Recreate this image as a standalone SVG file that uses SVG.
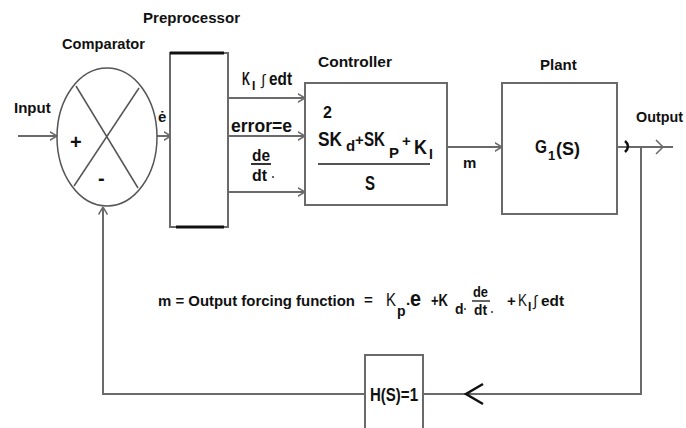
<svg xmlns="http://www.w3.org/2000/svg" width="686" height="428" viewBox="0 0 686 428">
<style>
.ln{stroke:#6a6a6a;stroke-width:2;fill:none}
.bx{stroke:#6a6a6a;stroke-width:2;fill:#fff}
.t{font-family:"Liberation Sans",Arial,sans-serif;font-weight:bold;fill:#111}
.n{font-family:"Liberation Sans",Arial,sans-serif;font-weight:normal;fill:#111}
.blk{stroke:#111;stroke-width:2.5;fill:none}
</style>
<defs>
<marker id="ah" viewBox="0 0 8 10" refX="7.5" refY="5" markerWidth="8" markerHeight="10" markerUnits="userSpaceOnUse" orient="auto">
<path d="M0,0.5 L7.5,5 L0,9.5" fill="none" stroke="#6a6a6a" stroke-width="1.5"/>
</marker>
</defs>
<rect width="686" height="428" fill="#fff"/>

<g id="connectors">
<line class="ln" x1="18" y1="136" x2="57" y2="136" marker-end="url(#ah)"/>
<line class="ln" x1="157" y1="136" x2="171" y2="136" marker-end="url(#ah)"/>
<line class="ln" x1="228" y1="98" x2="305" y2="98" marker-end="url(#ah)"/>
<line class="ln" x1="228" y1="136" x2="305" y2="136" marker-end="url(#ah)"/>
<line class="ln" x1="228" y1="192" x2="305" y2="192" marker-end="url(#ah)"/>
<line class="ln" x1="447" y1="147" x2="502" y2="147" marker-end="url(#ah)"/>
<line class="ln" x1="617" y1="147" x2="673" y2="147"/>
<path d="M656,140 L663,147 L656,154" fill="none" stroke="#6a6a6a" stroke-width="1.5"/>
<path d="M625,141 Q631,146 625,152" class="blk" stroke-width="2"/>
<polyline class="ln" points="641,147 641,394 423,394"/>
<path d="M483,384 L466,394 L483,404" class="blk"/>
<polyline class="ln" points="365,394 103,394 103,207" marker-end="url(#ah)"/>
<text class="t" x="14" y="113" font-size="15">Input</text>
<text class="t" x="158" y="122" font-size="15">ė</text>
<text class="t" x="636" y="122" font-size="15" textLength="47" lengthAdjust="spacingAndGlyphs">Output</text>
<text class="t" x="463" y="168" font-size="15">m</text>
</g>

<g id="comparator">
<ellipse cx="107" cy="137" rx="50" ry="69" fill="#fff" stroke="#555" stroke-width="1.5"/>
<line x1="76" y1="86" x2="138" y2="188" stroke="#555" stroke-width="1.5"/>
<line x1="139" y1="88" x2="74" y2="186" stroke="#555" stroke-width="1.5"/>
<text class="t" x="70" y="149" font-size="20">+</text>
<text class="t" x="98" y="185" font-size="20">-</text>
<text class="t" x="62" y="49" font-size="15" textLength="83" lengthAdjust="spacingAndGlyphs">Comparator</text>
</g>

<g id="preprocessor">
<rect class="bx" x="170" y="53" width="58" height="174"/>
<line x1="170" y1="53" x2="224" y2="53" stroke="#111" stroke-width="3"/>
<line x1="176" y1="227" x2="224" y2="227" stroke="#111" stroke-width="3"/>
<text class="t" x="143" y="23" font-size="15" textLength="97" lengthAdjust="spacingAndGlyphs">Preprocessor</text>
<text class="t" x="242" y="85" font-size="18" textLength="8" lengthAdjust="spacingAndGlyphs">K</text>
<text class="t" x="252" y="90" font-size="12">I</text>
<text class="n" x="261" y="85" font-size="15">∫</text>
<text class="t" x="269" y="85" font-size="18" textLength="23" lengthAdjust="spacingAndGlyphs">edt</text>
<text class="t" x="231" y="132" font-size="19" textLength="61" lengthAdjust="spacingAndGlyphs">error=e</text>
<text class="t" x="252" y="161" font-size="17" textLength="18" lengthAdjust="spacingAndGlyphs">de</text>
<line x1="251" y1="164" x2="271" y2="164" stroke="#333" stroke-width="2"/>
<text class="t" x="252" y="181" font-size="17" textLength="15" lengthAdjust="spacingAndGlyphs">dt</text>
<circle cx="273" cy="177" r="1" fill="#333"/>
</g>

<g id="controller">
<rect class="bx" x="305" y="83" width="142" height="122"/>
<text class="t" x="318" y="67" font-size="15" textLength="74" lengthAdjust="spacingAndGlyphs">Controller</text>
<text class="t" x="323" y="118" font-size="16">2</text>
<text class="t" x="318" y="146" font-size="21" textLength="24" lengthAdjust="spacingAndGlyphs">SK</text>
<text class="t" x="346" y="151" font-size="15">d</text>
<text class="t" x="355" y="145" font-size="15">+</text>
<text class="t" x="364" y="146" font-size="21" textLength="21" lengthAdjust="spacingAndGlyphs">SK</text>
<text class="t" x="389" y="158" font-size="15">P</text>
<text class="t" x="402" y="146" font-size="15">+</text>
<text class="t" x="414" y="154" font-size="21" textLength="13" lengthAdjust="spacingAndGlyphs">K</text>
<text class="t" x="429" y="159" font-size="14">I</text>
<line x1="318" y1="164" x2="430" y2="164" stroke="#555" stroke-width="2"/>
<text class="t" x="365" y="190" font-size="20" textLength="10" lengthAdjust="spacingAndGlyphs">S</text>
</g>

<g id="plant">
<rect class="bx" x="502" y="83" width="115" height="131"/>
<text class="t" x="540" y="70" font-size="15">Plant</text>
<text class="t" x="535" y="153" font-size="18" textLength="12" lengthAdjust="spacingAndGlyphs">G</text>
<text class="t" x="548" y="160" font-size="13">1</text>
<text class="t" x="556" y="155" font-size="18" textLength="24" lengthAdjust="spacingAndGlyphs">(S)</text>
</g>

<g id="feedback">
<rect class="bx" x="365" y="355" width="58" height="80"/>
<text class="t" x="370" y="401" font-size="18" textLength="48" lengthAdjust="spacingAndGlyphs">H(S)=1</text>
</g>

<g id="equation">
<text class="t" x="158" y="306" font-size="15" textLength="197" lengthAdjust="spacingAndGlyphs">m = Output forcing function</text>
<text class="t" x="364" y="305" font-size="15">=</text>
<text class="n" x="386" y="306" font-size="19" textLength="10" lengthAdjust="spacingAndGlyphs">K</text>
<text class="t" x="397" y="316" font-size="14">p</text>
<text class="t" x="406" y="305" font-size="15">.</text>
<text class="t" x="410" y="306" font-size="22" textLength="11" lengthAdjust="spacingAndGlyphs">e</text>
<text class="t" x="431" y="306" font-size="17" textLength="17" lengthAdjust="spacingAndGlyphs">+K</text>
<text class="t" x="455" y="314" font-size="14">d</text>
<circle cx="465" cy="309" r="1" fill="#333"/>
<text class="t" x="473" y="297" font-size="14" textLength="15" lengthAdjust="spacingAndGlyphs">de</text>
<line x1="472" y1="301" x2="490" y2="301" stroke="#333" stroke-width="1.5"/>
<text class="t" x="474" y="315" font-size="14" textLength="13" lengthAdjust="spacingAndGlyphs">dt</text>
<circle cx="492" cy="312" r="1" fill="#333"/>
<text class="t" x="507" y="306" font-size="15">+</text>
<text class="n" x="518" y="306" font-size="17" textLength="9" lengthAdjust="spacingAndGlyphs">K</text>
<text class="t" x="528" y="311" font-size="12">I</text>
<text class="n" x="533" y="306" font-size="15">∫</text>
<text class="t" x="541" y="306" font-size="15" textLength="23" lengthAdjust="spacingAndGlyphs">edt</text>
</g>
</svg>
